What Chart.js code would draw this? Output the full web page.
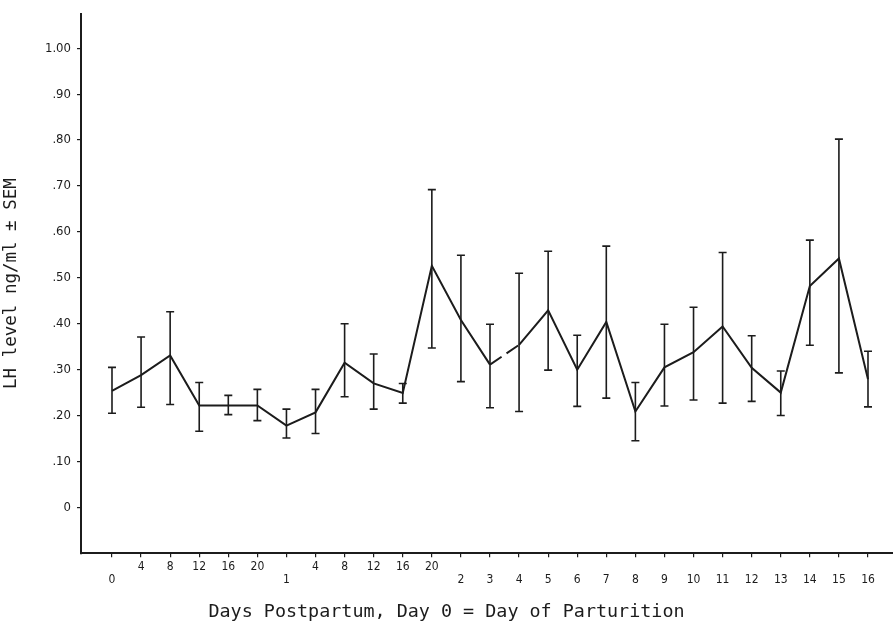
<!DOCTYPE html>
<html>
<head>
<meta charset="utf-8">
<script src="https://cdn.jsdelivr.net/npm/chart.js@4"></script>
<style>
  html, body { margin: 0; padding: 0; background: #ffffff; }
  #wrap { width: 893px; height: 636px; }
</style>
</head>
<body>
<div id="wrap"><canvas id="c" width="893" height="636"></canvas></div>
<script>
// ---- data ----
const dayIndex = [0, 1, 2, 3, 4, 5, 6, 7, 8, 9, 10, 11, 12, 13, 14, 15, 16, 17, 18, 19, 20, 21, 22, 23, 24, 25, 26];
const topLabels = ["", "4", "8", "12", "16", "20", "", "4", "8", "12", "16", "20", "", "", "", "", "", "", "", "", "", "", "", "", "", "", ""];
const bottomLabels = ["0", "", "", "", "", "", "1", "", "", "", "", "", "2", "3", "4", "5", "6", "7", "8", "9", "10", "11", "12", "13", "14", "15", "16"];
const lhMean = [0.254, 0.288, 0.331, 0.222, 0.222, 0.222, 0.178, 0.207, 0.315, 0.270, 0.249, 0.526, 0.408, 0.311, 0.354, 0.429, 0.300, 0.404, 0.209, 0.305, 0.338, 0.394, 0.304, 0.250, 0.482, 0.542, 0.279];
const semUpper = [0.305, 0.371, 0.426, 0.272, 0.244, 0.257, 0.214, 0.257, 0.400, 0.334, 0.270, 0.692, 0.549, 0.399, 0.510, 0.558, 0.375, 0.569, 0.272, 0.399, 0.436, 0.555, 0.374, 0.297, 0.582, 0.802, 0.340];
const semLower = [0.205, 0.218, 0.224, 0.166, 0.202, 0.189, 0.151, 0.161, 0.241, 0.214, 0.227, 0.347, 0.274, 0.217, 0.209, 0.299, 0.220, 0.238, 0.145, 0.221, 0.234, 0.227, 0.231, 0.200, 0.353, 0.293, 0.219];
const dashedSegments = [13];
const yTickValues = [0, 0.1, 0.2, 0.3, 0.4, 0.5, 0.6, 0.7, 0.8, 0.9, 1.0];
const yTickLabels = ["0", ".10", ".20", ".30", ".40", ".50", ".60", ".70", ".80", ".90", "1.00"];
const xTitle = "Days Postpartum, Day 0 = Day of Parturition";
const yTitle = "LH level ng/ml \u00b1 SEM";

// ---- styling ----
const ink = '#1c1c1c';
const monoFont = "'DejaVu Sans Mono', 'Liberation Mono', monospace";
const tickFont = "'Liberation Sans Narrow', 'DejaVu Sans Condensed', 'Liberation Sans', sans-serif";

const errorBars = {
  id: 'errorBars',
  afterDatasetsDraw(chart) {
    const xs = chart.scales.x, ys = chart.scales.y, ctx = chart.ctx;
    ctx.save();
    ctx.strokeStyle = ink;
    ctx.lineWidth = 1.6;
    for (let i = 0; i < lhMean.length; i++) {
      const px = xs.getPixelForValue(dayIndex[i]);
      const top = ys.getPixelForValue(semUpper[i]);
      const bot = ys.getPixelForValue(semLower[i]);
      ctx.beginPath();
      ctx.moveTo(px, top); ctx.lineTo(px, bot);
      ctx.moveTo(px - 4, top); ctx.lineTo(px + 4, top);
      ctx.moveTo(px - 4, bot); ctx.lineTo(px + 4, bot);
      ctx.stroke();
    }
    ctx.restore();
  }
};

const bgPlugin = {
  id: 'bg',
  beforeDraw(chart) {
    const ctx = chart.ctx;
    ctx.save();
    ctx.fillStyle = '#ffffff';
    ctx.fillRect(0, 0, chart.width, chart.height);
    ctx.restore();
  }
};

new Chart(document.getElementById('c'), {
  type: 'line',
  data: {
    datasets: [{
      data: dayIndex.map((d, i) => ({ x: d, y: lhMean[i] })),
      borderColor: ink,
      borderWidth: 2,
      pointRadius: 0,
      tension: 0,
      fill: false,
      segment: {
        borderDash: ctx => dashedSegments.includes(ctx.p0DataIndex) ? [14, 6] : undefined
      }
    }]
  },
  options: {
    responsive: false,
    animation: false,
    layout: { padding: { top: 8, right: 0, left: 0, bottom: 0 } },
    plugins: {
      legend: { display: false },
      tooltip: { enabled: false },
      title: {
        display: true,
        position: 'bottom',
        text: xTitle,
        color: ink,
        font: { family: monoFont, size: 18.4, weight: 'normal' },
        padding: { top: 3, bottom: 13 }
      }
    },
    scales: {
      x: {
        type: 'linear',
        min: -1.066,
        max: 26.86,
        afterBuildTicks: s => { s.ticks = dayIndex.map(v => ({ value: v })); },
        afterFit: s => { s.height = 44.6; },
        ticks: {
          autoSkip: false,
          maxRotation: 0,
          minRotation: 0,
          padding: 3,
          color: ink,
          font: { family: tickFont, size: 12, lineHeight: 1.1 },
          callback: v => {
            const i = dayIndex.indexOf(v);
            return [topLabels[i], bottomLabels[i]];
          }
        },
        grid: { drawOnChartArea: false, tickLength: 4, color: ink, lineWidth: 1.2 },
        border: { color: ink, width: 2 }
      },
      y: {
        type: 'linear',
        min: -0.1,
        max: 1.075,
        afterBuildTicks: s => { s.ticks = yTickValues.map(v => ({ value: v })); },
        afterFit: s => { s.width = 81; },
        ticks: {
          padding: 6,
          color: ink,
          font: { family: tickFont, size: 13 },
          callback: v => yTickLabels[yTickValues.indexOf(v)]
        },
        grid: { drawOnChartArea: false, tickLength: 4, color: ink, lineWidth: 1.2 },
        border: { color: ink, width: 2 },
        title: {
          display: true,
          text: yTitle,
          color: ink,
          font: { family: monoFont, size: 17.5, weight: 'normal' },
          padding: { top: 1, bottom: 0 }
        }
      }
    }
  },
  plugins: [bgPlugin, errorBars]
});
</script>
</body>
</html>
